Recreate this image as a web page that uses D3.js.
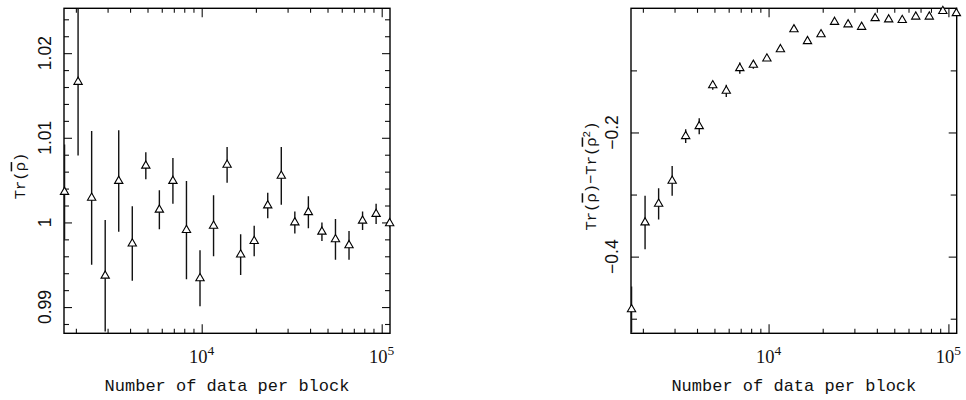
<!DOCTYPE html>
<html><head><meta charset="utf-8">
<script src="https://cdn.jsdelivr.net/npm/d3@7"></script>
<style>body{margin:0;background:#fff}svg{display:block}</style>
</head><body>
<svg id="c" width="966" height="400"></svg>
<script>
// ---- data ----
const blockSizes = [1730, 2057, 2447, 2910, 3460, 4115, 4893, 5819, 6920, 8229, 9786, 11638, 13840, 16459, 19573, 23276, 27680, 32917, 39146, 46552, 55360, 65834, 78291, 93105, 110720];
const traceVals = [1.0036, 1.0166, 1.0029, 0.9937, 1.0049, 0.9975, 1.0067, 1.0015, 1.0049, 0.9991, 0.9934, 0.9996, 1.0068, 0.9962, 0.9978, 1.0020, 1.0055, 1.0000, 1.0012, 0.9989, 0.9980, 0.9973, 1.0002, 1.0010, 0.9999];
const traceErrs = [0.0056, 0.0087, 0.0079, 0.0066, 0.0060, 0.0044, 0.0016, 0.0023, 0.0027, 0.0058, 0.0033, 0.0036, 0.0021, 0.0024, 0.0018, 0.0015, 0.0034, 0.0013, 0.0019, 0.0011, 0.0024, 0.0017, 0.0011, 0.0012, 0.0005];
const purityVals = [-0.485, -0.345, -0.315, -0.278, -0.206, -0.190, -0.124, -0.133, -0.0965, -0.0912, -0.081, -0.066, -0.034, -0.053, -0.042, -0.022, -0.026, -0.030, -0.016, -0.018, -0.019, -0.0135, -0.0135, -0.0044, -0.008];
const purityErrs = [0.037, 0.043, 0.025, 0.024, 0.011, 0.013, 0.007, 0.010, 0.009, 0.006, 0.004, 0.002, 0.001, 0.001, 0.001, 0.001, 0.001, 0.001, 0.001, 0.001, 0.001, 0.001, 0.001, 0.001, 0.001];
const xMajorTicks = [1e4, 1e5];
const xMajorExp = ["4", "5"];
const xMinorTicks = [2000, 3000, 4000, 5000, 6000, 7000, 8000, 9000, 20000, 30000, 40000, 50000, 60000, 70000, 80000, 90000];
const leftMajorTicks = [0.99, 1.00, 1.01, 1.02];
const leftTickLabels = ["0.99", "1", "1.01", "1.02"];
const leftMinorTicks = [0.988, 0.992, 0.994, 0.996, 0.998, 1.002, 1.004, 1.006, 1.008, 1.012, 1.014, 1.016, 1.018, 1.022, 1.024];
const rightMajorTicks = [-0.4, -0.2];
const rightTickLabels = ["\u22120.4", "\u22120.2"];
const rightMinorTicks = [-0.5, -0.3, -0.1];
const xLabel = "Number of data per block";

// ---- layout ----
const svg = d3.select("#c");
const plotTop = 8.3, plotBottom = 333.3;
const xDomain = [1718, 111200];

function panel(cfg) {
  const x = d3.scaleLog().domain(xDomain).range([cfg.x0, cfg.x1]);
  const y = d3.scaleLinear().domain(cfg.yDomain).range([plotBottom, plotTop]);
  const g = svg.append("g");
  const clipId = "clip" + cfg.id;
  svg.append("defs").append("clipPath").attr("id", clipId)
    .append("rect").attr("x", cfg.x0).attr("y", plotTop).attr("width", cfg.x1 - cfg.x0).attr("height", plotBottom - plotTop);

  function axis(gen, tr, vals, size) {
    const a = g.append("g").attr("transform", tr)
      .call(gen.tickValues(vals).tickSize(-size).tickFormat(""));
    a.select(".domain").remove();
    a.selectAll(".tick line").attr("stroke", "#111").attr("stroke-width", 1.1);
  }
  axis(d3.axisBottom(x), `translate(0,${plotBottom})`, xMajorTicks, 9);
  axis(d3.axisBottom(x), `translate(0,${plotBottom})`, xMinorTicks, 4.5);
  axis(d3.axisTop(x), `translate(0,${plotTop})`, xMajorTicks, 9);
  axis(d3.axisTop(x), `translate(0,${plotTop})`, xMinorTicks, 4.5);
  axis(d3.axisLeft(y), `translate(${cfg.x0},0)`, cfg.major, 8);
  axis(d3.axisLeft(y), `translate(${cfg.x0},0)`, cfg.minor, cfg.minorLen);
  axis(d3.axisRight(y), `translate(${cfg.x1},0)`, cfg.major, 8);
  axis(d3.axisRight(y), `translate(${cfg.x1},0)`, cfg.minor, cfg.minorLen);

  g.append("rect").attr("x", cfg.x0).attr("y", plotTop).attr("width", cfg.x1 - cfg.x0).attr("height", plotBottom - plotTop)
    .attr("fill", "none").attr("stroke", "#000").attr("stroke-width", 1.4);

  // y tick labels (rotated)
  g.selectAll("text.ytl").data(cfg.major).join("text")
    .attr("class", "ytl")
    .attr("transform", d => `translate(${cfg.x0 - 19},${y(d)}) rotate(-90)`)
    .attr("text-anchor", "middle").attr("dy", "0.36em")
    .attr("font-family", "Liberation Sans, Arial, sans-serif").attr("font-size", 17.5).attr("fill", "#111")
    .text((d, i) => cfg.labels[i]);

  // x tick labels 10^n
  xMajorTicks.forEach((v, i) => {
    const t = g.append("text").attr("x", x(v)).attr("y", 363).attr("text-anchor", "middle")
      .attr("font-family", "Liberation Serif, Times New Roman, serif").attr("font-size", 18.5).attr("fill", "#111");
    t.append("tspan").text("10");
    t.append("tspan").attr("dy", -8).attr("font-size", 13.5).text(xMajorExp[i]);
  });

  // x label
  g.append("text").attr("x", (cfg.x0 + cfg.x1) / 2).attr("y", 391).attr("text-anchor", "middle")
    .attr("font-family", "Liberation Mono, Courier New, monospace").attr("font-size", 17).attr("fill", "#111")
    .text(xLabel);

  // y label
  const yl = g.append("text").attr("transform", `translate(${cfg.ylx},176) rotate(-90)`)
    .attr("text-anchor", "middle").attr("dy", "0.3em")
    .attr("font-family", "Liberation Mono, Courier New, monospace").attr("font-size", 15.5).attr("fill", "#111");
  cfg.ylabel(yl);

  // error bars + markers
  const data = blockSizes.map((n, i) => ({n, v: cfg.vals[i], e: cfg.errs[i]}));
  const pg = g.append("g").attr("clip-path", `url(#${clipId})`);
  pg.selectAll("line.eb").data(data).join("line").attr("class", "eb")
    .attr("x1", d => x(d.n)).attr("x2", d => x(d.n))
    .attr("y1", d => y(d.v - d.e)).attr("y2", d => y(d.v + d.e))
    .attr("stroke", "#111").attr("stroke-width", 1.4);
  const tri = d3.symbol().type(d3.symbolTriangle).size(30);
  g.selectAll("path.pt").data(data).join("path").attr("class", "pt")
    .attr("transform", d => `translate(${x(d.n)},${y(d.v)})`)
    .attr("d", tri).attr("fill", "#fff").attr("stroke", "#000").attr("stroke-width", 1.1);
}

function rhoBar(t) {
  t.append("tspan").attr("text-decoration", "overline").text("\u03C1");
}

panel({
  id: "L", x0: 64, x1: 390, yDomain: [0.9869, 1.0253],
  major: leftMajorTicks, minor: leftMinorTicks, minorLen: 5, labels: leftTickLabels,
  vals: traceVals, errs: traceErrs, ylx: 20,
  ylabel: t => { t.append("tspan").text("Tr("); rhoBar(t); t.append("tspan").text(")"); }
});
panel({
  id: "R", x0: 631, x1: 956.7, yDomain: [-0.5235, 0],
  major: rightMajorTicks, minor: rightMinorTicks, minorLen: 6, labels: rightTickLabels,
  vals: purityVals, errs: purityErrs, ylx: 591,
  ylabel: t => {
    t.append("tspan").text("Tr("); rhoBar(t); t.append("tspan").text(")\u2212Tr(");
    rhoBar(t); t.append("tspan").attr("dy", -6).attr("font-size", 11).text("2");
    t.append("tspan").attr("dy", 6).text(")");
  }
});
</script>
</body></html>
